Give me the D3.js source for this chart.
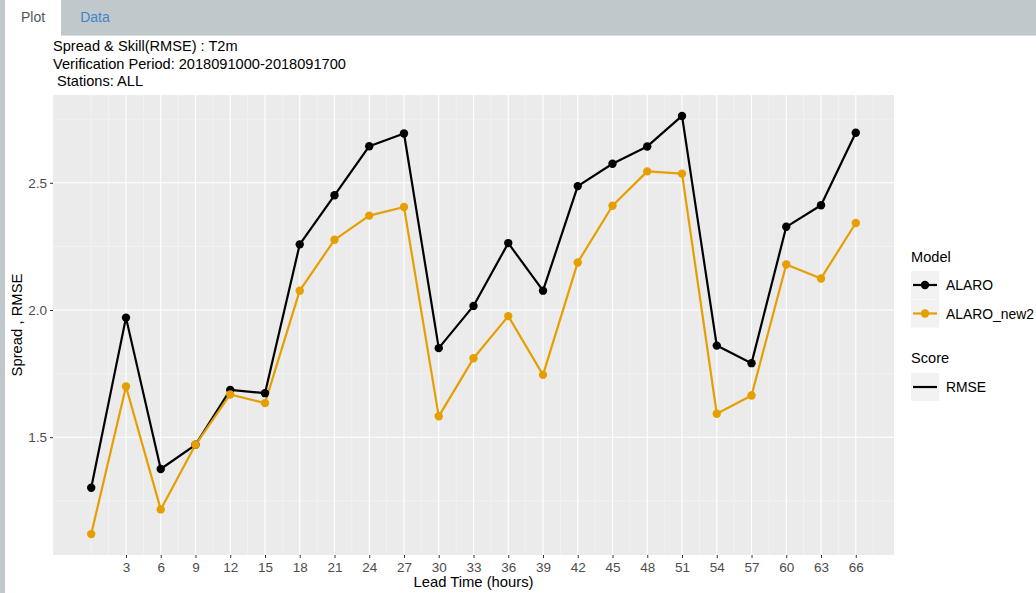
<!DOCTYPE html>
<html>
<head>
<meta charset="utf-8">
<script src="https://cdn.jsdelivr.net/npm/d3@7"></script>
<style>
  html, body { margin: 0; padding: 0; background: #fff; }
  svg { display: block; font-family: "Liberation Sans", Arial, sans-serif; }
</style>
</head>
<body>
<svg id="chart" width="1036" height="593"></svg>
<script>
// Lead times (hours) and per-model RMSE values
const leadTimes = [0, 3, 6, 9, 12, 15, 18, 21, 24, 27, 30, 33, 36, 39, 42, 45, 48, 51, 54, 57, 60, 63, 66];
const alaro     = [1.301, 1.970, 1.375, 1.470, 1.686, 1.673, 2.258, 2.451, 2.644, 2.694, 1.850, 2.016, 2.263, 2.076, 2.487, 2.575, 2.643, 2.763, 1.860, 1.791, 2.327, 2.412, 2.697];
const alaroNew2 = [1.119, 1.699, 1.216, 1.470, 1.668, 1.634, 2.076, 2.276, 2.371, 2.405, 1.582, 1.810, 1.976, 1.745, 2.187, 2.410, 2.545, 2.536, 1.592, 1.664, 2.179, 2.124, 2.342];
const modelNames = ["ALARO", "ALARO_new2"];
const modelColors = ["#000000", "#E69F00"];
const xTicks = [3, 6, 9, 12, 15, 18, 21, 24, 27, 30, 33, 36, 39, 42, 45, 48, 51, 54, 57, 60, 63, 66];
const yTicks = [1.5, 2.0, 2.5];
const titleLines = ["Spread & Skill(RMSE) : T2m", "Verification Period: 2018091000-2018091700", " Stations: ALL"];

const svg = d3.select("#chart");

// Tab strip across the top
svg.append("rect").attr("x", 0).attr("y", 0).attr("width", 1036).attr("height", 35).attr("fill", "#c1c8cb");
svg.append("rect").attr("x", 0).attr("y", 35).attr("width", 1036).attr("height", 1).attr("fill", "#d9dee0");
svg.append("rect").attr("x", 0).attr("y", 0).attr("width", 5).attr("height", 593).attr("fill", "#c1c8cb");
svg.append("rect").attr("x", 5).attr("y", 0).attr("width", 56).attr("height", 37).attr("fill", "#ffffff");
svg.append("text").attr("x", 33).attr("y", 22).attr("text-anchor", "middle")
  .attr("font-size", 14).attr("fill", "#555").text("Plot");
svg.append("text").attr("x", 95).attr("y", 22).attr("text-anchor", "middle")
  .attr("font-size", 14).attr("fill", "#3f86c6").text("Data");

// Panel geometry
const panel = { left: 53, right: 894, top: 95, bottom: 555 };

const xExtent = d3.extent(leadTimes);
const xPad = (xExtent[1] - xExtent[0]) * 0.05;
const x = d3.scaleLinear().domain([xExtent[0] - xPad, xExtent[1] + xPad]).range([panel.left, panel.right]);

const allVals = alaro.concat(alaroNew2);
const yExtent = d3.extent(allVals);
const yPad = (yExtent[1] - yExtent[0]) * 0.05;
const y = d3.scaleLinear().domain([yExtent[0] - yPad, yExtent[1] + yPad]).range([panel.bottom, panel.top]);

// Panel background
svg.append("rect").attr("x", panel.left).attr("y", panel.top)
  .attr("width", panel.right - panel.left).attr("height", panel.bottom - panel.top)
  .attr("fill", "#ebebeb");

const grid = svg.append("g");
// Minor grid lines
const xMinor = d3.range(0, 69, 1.5).filter(v => v % 3 !== 0 || v === 0);
grid.selectAll(".xminor").data(xMinor).join("line")
  .attr("x1", d => x(d)).attr("x2", d => x(d))
  .attr("y1", panel.top).attr("y2", panel.bottom)
  .attr("stroke", "#f7f7f7").attr("stroke-width", 0.6);
const yMinor = [1.25, 1.75, 2.25, 2.75];
grid.selectAll(".yminor").data(yMinor).join("line")
  .attr("x1", panel.left).attr("x2", panel.right)
  .attr("y1", d => y(d)).attr("y2", d => y(d))
  .attr("stroke", "#f7f7f7").attr("stroke-width", 0.6);
// Major grid lines
grid.selectAll(".xmajor").data(xTicks).join("line")
  .attr("x1", d => x(d)).attr("x2", d => x(d))
  .attr("y1", panel.top).attr("y2", panel.bottom)
  .attr("stroke", "#ffffff").attr("stroke-width", 1.1);
grid.selectAll(".ymajor").data(yTicks).join("line")
  .attr("x1", panel.left).attr("x2", panel.right)
  .attr("y1", d => y(d)).attr("y2", d => y(d))
  .attr("stroke", "#ffffff").attr("stroke-width", 1.1);

// Axes
const xAxis = svg.append("g").attr("transform", `translate(0,${panel.bottom})`)
  .call(d3.axisBottom(x).tickValues(xTicks).tickSize(3).tickPadding(4).tickFormat(d3.format("d")));
xAxis.select(".domain").remove();
xAxis.selectAll(".tick line").attr("stroke", "#333");
xAxis.selectAll(".tick text").attr("font-size", 13.5).attr("fill", "#4d4d4d")
  .attr("font-family", "Liberation Sans, Arial, sans-serif");

const yAxis = svg.append("g").attr("transform", `translate(${panel.left},0)`)
  .call(d3.axisLeft(y).tickValues(yTicks).tickSize(3).tickPadding(3).tickFormat(d3.format(".1f")));
yAxis.select(".domain").remove();
yAxis.selectAll(".tick line").attr("stroke", "#333");
yAxis.selectAll(".tick text").attr("font-size", 13.5).attr("fill", "#4d4d4d")
  .attr("font-family", "Liberation Sans, Arial, sans-serif");

// Axis titles
svg.append("text").attr("x", (panel.left + panel.right) / 2).attr("y", 587)
  .attr("text-anchor", "middle").attr("font-size", 14.8).attr("fill", "#000").text("Lead Time (hours)");
svg.append("text").attr("transform", `translate(22,${(panel.top + panel.bottom) / 2}) rotate(-90)`)
  .attr("text-anchor", "middle").attr("font-size", 14.8).attr("fill", "#000").text("Spread , RMSE");

// Title block
svg.append("g").selectAll("text").data(titleLines).join("text")
  .attr("x", 53).attr("y", (d, i) => 51 + i * 17.5)
  .attr("font-size", 14.6).attr("fill", "#000")
  .attr("xml:space", "preserve").style("white-space", "pre")
  .text(d => d);

// Series
const series = [alaro, alaroNew2];
const line = d3.line().x((d, i) => x(leadTimes[i])).y(d => y(d));
const plot = svg.append("g");
series.forEach((vals, k) => {
  plot.append("path").datum(vals).attr("d", line)
    .attr("fill", "none").attr("stroke", modelColors[k]).attr("stroke-width", 2.2)
    .attr("stroke-linejoin", "round");
});
series.forEach((vals, k) => {
  plot.append("g").selectAll("circle").data(vals).join("circle")
    .attr("cx", (d, i) => x(leadTimes[i])).attr("cy", d => y(d)).attr("r", 4.2)
    .attr("fill", modelColors[k]);
});

// Legend
const legend = svg.append("g");
legend.append("text").attr("x", 911).attr("y", 262).attr("font-size", 14.6).attr("fill", "#000").text("Model");
modelNames.forEach((name, k) => {
  const top = 271 + k * 28.5;
  legend.append("rect").attr("x", 911).attr("y", top).attr("width", 28).attr("height", 28).attr("fill", "#f2f2f2");
  legend.append("line").attr("x1", 913).attr("x2", 937).attr("y1", top + 14).attr("y2", top + 14)
    .attr("stroke", modelColors[k]).attr("stroke-width", 2.2);
  legend.append("circle").attr("cx", 925).attr("cy", top + 14).attr("r", 4.2).attr("fill", modelColors[k]);
  legend.append("text").attr("x", 946).attr("y", top + 19).attr("font-size", 13.9).attr("fill", "#000").text(name);
});
legend.append("text").attr("x", 911).attr("y", 363).attr("font-size", 14.6).attr("fill", "#000").text("Score");
legend.append("rect").attr("x", 911).attr("y", 373).attr("width", 28).attr("height", 28).attr("fill", "#f2f2f2");
legend.append("line").attr("x1", 913).attr("x2", 937).attr("y1", 387).attr("y2", 387)
  .attr("stroke", "#000").attr("stroke-width", 2.2);
legend.append("text").attr("x", 946).attr("y", 392).attr("font-size", 13.9).attr("fill", "#000").text("RMSE");
</script>
</body>
</html>
